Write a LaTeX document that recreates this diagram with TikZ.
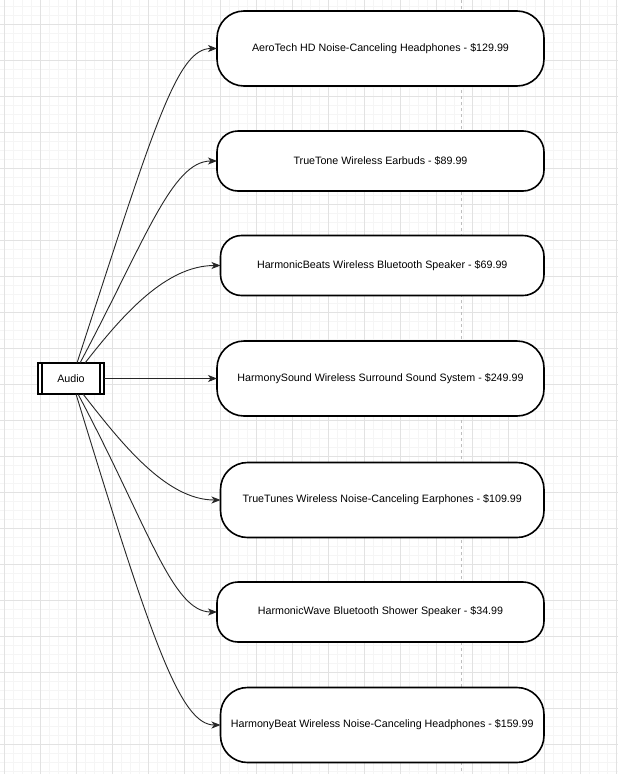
\documentclass[tikz,border=0pt]{standalone}
\usepackage{fontspec}
\setmainfont{Liberation Sans}
\usetikzlibrary{arrows.meta}

\definecolor{gridminor}{RGB}{245,245,245}
\definecolor{gridmajor}{RGB}{226,226,226}
\definecolor{pageline}{RGB}{190,190,190}

\tikzset{
  product/.style={draw=black, line width=1.6pt, fill=white, minimum width=327pt,
    inner sep=0pt, outer sep=0pt, font=\fontsize{10.7}{13}\selectfont},
  tall/.style={minimum height=75pt, rounded corners=27pt},
  flat/.style={minimum height=60pt, rounded corners=21pt},
  narrow/.style={minimum width=323.5pt},
  hub/.style={draw=black, line width=1.5pt, fill=white, minimum width=66pt,
    minimum height=31pt, inner sep=0pt, outer sep=0pt, font=\fontsize{10.7}{13}\selectfont,
    path picture={
      \draw[line width=1.2pt] ([xshift=4pt]path picture bounding box.south west) -- ([xshift=4pt]path picture bounding box.north west);
      \draw[line width=1.2pt] ([xshift=-4pt]path picture bounding box.south east) -- ([xshift=-4pt]path picture bounding box.north east);
    }},
  edge/.style={draw=black!85, line width=0.9pt, -{Stealth[length=9pt,width=7pt,inset=2.5pt]}}
}

\begin{document}
\begin{tikzpicture}[x=1pt, y=-1pt]
\useasboundingbox (0,0) rectangle (618,774);
\fill[white] (0,0) rectangle (618,774);

% grid
\foreach \gx in {4,13,...,616} \draw[gridminor, line width=0.7pt] (\gx,0) -- (\gx,774);
\foreach \gy in {6,15,...,771} \draw[gridminor, line width=0.7pt] (0,\gy) -- (618,\gy);
\foreach \gx in {4,40,...,616} \draw[gridmajor, line width=0.7pt] (\gx,0) -- (\gx,774);
\foreach \gy in {24,60,...,760} \draw[gridmajor, line width=0.7pt] (0,\gy) -- (618,\gy);
\draw[pageline, line width=0.8pt, dash pattern=on 3pt off 3pt] (461.5,0) -- (461.5,774);

% nodes
\node[hub] (audio) at (71,378.5) {Audio};

\node[product, tall] (aerotech) at (380.5,48.5) {AeroTech HD Noise-Canceling Headphones - \$129.99};
\node[product, flat] (truetone) at (380.5,161) {TrueTone Wireless Earbuds - \$89.99};
\node[product, flat, narrow] (harmonicbeats) at (382.25,265.5) {HarmonicBeats Wireless Bluetooth Speaker - \$69.99};
\node[product, tall] (harmonysound) at (380.5,378.5) {HarmonySound Wireless Surround Sound System - \$249.99};
\node[product, tall, narrow] (truetunes) at (382.25,500) {TrueTunes Wireless Noise-Canceling Earphones - \$109.99};
\node[product, flat] (harmonicwave) at (380.5,612) {HarmonicWave Bluetooth Shower Speaker - \$34.99};
\node[product, tall, narrow] (harmonybeat) at (382.25,725) {HarmonyBeat Wireless Noise-Canceling Headphones - \$159.99};

% connectors
\draw[edge] ([xshift=6pt]audio.north) .. controls +(-72:250) and +(180:40) .. (aerotech.west);
\draw[edge] ([xshift=9pt]audio.north) .. controls +(-62:140) and +(180:45) .. (truetone.west);
\draw[edge] ([xshift=14pt]audio.north) .. controls +(-52:60) and +(180:55) .. (harmonicbeats.west);
\draw[edge] (audio.east) -- (harmonysound.west);
\draw[edge] ([xshift=12pt]audio.south) .. controls +(52:60) and +(180:55) .. (truetunes.west);
\draw[edge] ([xshift=7pt]audio.south) .. controls +(62:150) and +(180:45) .. (harmonicwave.west);
\draw[edge] ([xshift=5pt]audio.south) .. controls +(73:260) and +(180:40) .. (harmonybeat.west);
\end{tikzpicture}
\end{document}
